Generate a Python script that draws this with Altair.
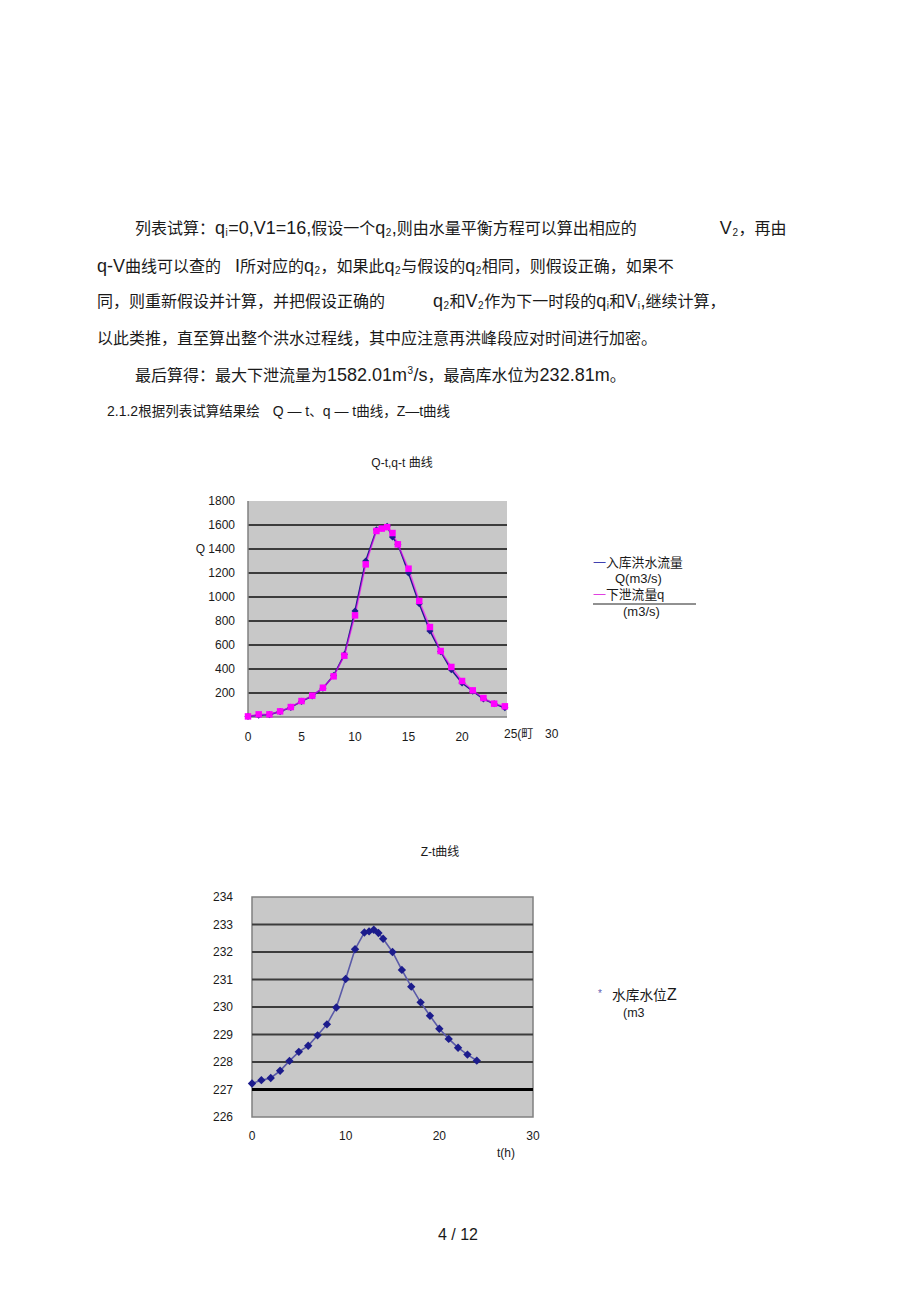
import altair as alt
import pandas as pd

# ---------------- data ----------------
t_flow = [0, 1, 2, 3, 4, 5, 6, 7, 8, 9, 10, 11, 12, 12.5, 13, 13.5, 14, 15, 16, 17, 18, 19, 20, 21, 22, 23, 24]
Q_in = [5, 15, 20, 45, 80, 130, 175, 240, 345, 520, 883, 1300, 1560, 1575, 1590, 1500, 1440, 1200, 944, 717, 545, 394, 283, 215, 150, 110, 78]
q_out = [5, 22, 22, 47, 83, 133, 178, 244, 339, 511, 847, 1272, 1550, 1570, 1582, 1533, 1439, 1236, 967, 750, 550, 417, 300, 222, 158, 111, 89]

t_z = [0, 1, 2, 3, 4, 5, 6, 7, 8, 9, 10, 11, 12, 12.5, 13, 13.5, 14, 15, 16, 17, 18, 19, 20, 21, 22, 23, 24]
Z = [227.22, 227.34, 227.42, 227.68, 228.04, 228.37, 228.59, 228.97, 229.37, 229.98, 231.02, 232.10, 232.71,
     232.75, 232.81, 232.69, 232.48, 232.0, 231.35, 230.74, 230.17, 229.68, 229.21, 228.84, 228.52, 228.27, 228.05]

q_grid = [200, 400, 600, 800, 1000, 1200, 1400, 1600]
q_ylab_vals = [200, 400, 600, 800, 1000, 1200, 1400, 1600, 1800]
q_ylab_txt = ["200", "400", "600", "800", "1000", "1200", "Q 1400", "1600", "1800"]
q_xlab_vals = [0, 5, 10, 15, 20]

z_grid = [228, 229, 230, 231, 232, 233]
z_ylab_vals = [226, 227, 228, 229, 230, 231, 232, 233, 234]
z_xlab_vals = [0, 10, 20, 30]

# paragraph text: (kind, text); c = CJK, l = Latin, sub / sup = small index, gap = blank space
para_lines = [
    (135, 229, [("c", "列表试算："), ("l", "q"), ("sub", "i"), ("l", "=0,V1=16,"), ("c", "假设一个"),
                ("l", "q"), ("sub", "2"), ("l", ","), ("c", "则由水量平衡方程可以算出相应的"),
                ("gap", "83"), ("l", "V"), ("sub", "2"), ("c", "，再由")]),
    (97, 267, [("l", "q-V"), ("c", "曲线可以查的"), ("gap", "14"), ("l", "I"), ("c", "所对应的"),
               ("l", "q"), ("sub", "2"), ("c", "，如果此"), ("l", "q"), ("sub", "2"), ("c", "与假设的"),
               ("l", "q"), ("sub", "2"), ("c", "相同，则假设正确，如果不")]),
    (97, 302, [("c", "同，则重新假设并计算，并把假设正确的"), ("gap", "48"), ("l", "q"), ("sub", "2"),
               ("c", "和"), ("l", "V"), ("sub", "2"), ("c", "作为下一时段的"), ("l", "q"), ("sub", "i"),
               ("c", "和"), ("l", "V"), ("sub", "i"), ("l", ","), ("c", "继续计算，")]),
    (97, 339, [("c", "以此类推，直至算出整个洪水过程线，其中应注意再洪峰段应对时间进行加密。")]),
    (135, 376, [("c", "最后算得：最大下泄流量为"), ("l", "1582.01m"), ("sup", "3"), ("l", "/s"),
                ("c", "，最高库水位为"), ("l", "232.81m"), ("c", "。")]),
]
heading_line = (107, 412, [("l", "2.1.2"), ("c", "根据列表试算结果绘"), ("gap", "13"), ("l", "Q — t"),
                           ("c", "、"), ("l", "q — t"), ("c", "曲线，"), ("l", "Z—t"), ("c", "曲线")])

# ---------------- style ----------------
LATIN = "Liberation Sans"
CJK = "Noto Sans CJK SC"
FONT = "Liberation Sans, Noto Sans CJK SC"
TXT = "#1a1a1a"
BG = "#c8c8c8"
GRID = "#3c3c3c"
NAVY = "#1c1c8c"
MAG = "#ff00ff"

# Arial / Liberation Sans advance widths (per 1000 em)
AW = {" ": 278, ".": 278, ",": 278, "=": 584, "-": 333, "/": 278, "(": 333, ")": 333,
      "q": 556, "V": 667, "I": 278, "m": 833, "s": 500, "Q": 778, "t": 278, "Z": 611,
      "—": 1000, "i": 222}
for d in "0123456789":
    AW[d] = 556


def lw(s, fs):
    return sum(AW.get(ch, 556) for ch in s) * fs / 1000.0


cjk_rows, lat_rows = [], []


def lay(x0, y, segs, cs, ls, ss):
    x = x0
    for kind, s in segs:
        if kind == "gap":
            x += float(s)
        elif kind == "c":
            cjk_rows.append({"s": s, "x": x, "y": y, "fs": cs})
            x += cs * len(s)
        elif kind == "l":
            lat_rows.append({"s": s, "x": x, "y": y, "fs": ls})
            x += lw(s, ls)
        elif kind == "sub":
            lat_rows.append({"s": s, "x": x + 0.5, "y": y + 4, "fs": ss})
            x += lw(s, ss) + 1
        elif kind == "sup":
            lat_rows.append({"s": s, "x": x + 0.5, "y": y - 5, "fs": ss})
            x += lw(s, ss) + 1


for x0, y, segs in para_lines:
    lay(x0, y, segs, 16, 18, 10)
lay(heading_line[0], heading_line[1], heading_line[2], 13.5, 14, 9)

xs1 = alt.Scale(domain=[0, 24.2], range=[248, 507], nice=False, zero=False)
ys1 = alt.Scale(domain=[0, 1800], range=[717, 501], nice=False, zero=False)
xs2 = alt.Scale(domain=[0, 30], range=[252, 533], nice=False, zero=False)
ys2 = alt.Scale(domain=[226, 234], range=[1117, 897], nice=False, zero=False)

layers = []


def txt(s, x, y, size=16, align="left", color=TXT, font=FONT):
    return alt.Chart(pd.DataFrame({"s": [s]})).mark_text(
        align=align, baseline="middle", fontSize=size, font=font, color=color
    ).encode(x=alt.value(x), y=alt.value(y), text="s:N")


def text_block(rows, font):
    return alt.Chart(pd.DataFrame(rows)).mark_text(
        align="left", baseline="middle", font=font, color=TXT
    ).encode(
        x=alt.X("x:Q", scale=None, axis=None),
        y=alt.Y("y:Q", scale=None, axis=None),
        size=alt.Size("fs:Q", scale=None, legend=None),
        text="s:N",
    )


layers.append(text_block(cjk_rows, CJK))
layers.append(text_block(lat_rows, LATIN))
layers.append(txt("4 / 12", 458, 1235, size=16, align="center"))

# ---------------- chart 1: Q-t, q-t ----------------
box1 = pd.DataFrame({"x0": [0], "x1": [24.2], "y0": [0], "y1": [1800]})
layers.append(
    alt.Chart(box1).mark_rect(color=BG).encode(
        x=alt.X("x0:Q", scale=xs1, axis=None), x2="x1",
        y=alt.Y("y0:Q", scale=ys1, axis=None), y2="y1")
)
g1 = pd.DataFrame({"v": q_grid, "x0": [0] * len(q_grid), "x1": [24.2] * len(q_grid)})
layers.append(
    alt.Chart(g1).mark_rule(color=GRID, strokeWidth=2).encode(
        x=alt.X("x0:Q", scale=xs1, axis=None), x2="x1",
        y=alt.Y("v:Q", scale=ys1, axis=None))
)
layers.append(
    alt.Chart(box1).mark_rule(color="#808080", strokeWidth=1.5).encode(
        x=alt.X("x0:Q", scale=xs1, axis=None),
        y=alt.Y("y0:Q", scale=ys1, axis=None), y2="y1")
)
layers.append(
    alt.Chart(box1).mark_rule(color="#808080", strokeWidth=1.5).encode(
        x=alt.X("x0:Q", scale=xs1, axis=None), x2="x1",
        y=alt.Y("y0:Q", scale=ys1, axis=None))
)
df1 = pd.DataFrame({"t": t_flow, "Q": Q_in, "q": q_out})
layers.append(
    alt.Chart(df1).mark_line(color=NAVY, strokeWidth=1.6).encode(
        x=alt.X("t:Q", scale=xs1, axis=None), y=alt.Y("Q:Q", scale=ys1, axis=None))
)
layers.append(
    alt.Chart(df1).mark_line(color=MAG, strokeWidth=1.6, opacity=0.6).encode(
        x=alt.X("t:Q", scale=xs1, axis=None), y=alt.Y("q:Q", scale=ys1, axis=None))
)
layers.append(
    alt.Chart(df1).mark_point(shape="diamond", filled=True, size=50, color=NAVY, opacity=1).encode(
        x=alt.X("t:Q", scale=xs1, axis=None), y=alt.Y("Q:Q", scale=ys1, axis=None))
)
layers.append(
    alt.Chart(df1).mark_point(shape="square", filled=True, size=42, color=MAG, opacity=1).encode(
        x=alt.X("t:Q", scale=xs1, axis=None), y=alt.Y("q:Q", scale=ys1, axis=None))
)
yl1 = pd.DataFrame({"v": q_ylab_vals, "s": q_ylab_txt})
layers.append(
    alt.Chart(yl1).mark_text(align="right", baseline="middle", fontSize=12, font=FONT, color=TXT).encode(
        x=alt.value(235), y=alt.Y("v:Q", scale=ys1, axis=None), text="s:N")
)
xl1 = pd.DataFrame({"v": q_xlab_vals})
layers.append(
    alt.Chart(xl1).mark_text(align="center", baseline="middle", fontSize=12, font=FONT, color=TXT).encode(
        x=alt.X("v:Q", scale=xs1, axis=None), y=alt.value(737), text="v:N")
)
layers += [
    txt("25(町", 504, 734, size=12),
    txt("30", 545, 734, size=12),
    txt("Q-t,q-t 曲线", 402, 463, size=12, align="center"),
    # legend
    txt("一", 593, 563, size=13, color="#4040b0", font=CJK),
    txt("入库洪水流量", 606, 563, size=12.8, font=CJK),
    txt("Q(m3/s)", 615, 579, size=13, font=LATIN),
    txt("一", 593, 595, size=13, color="#e040e0", font=CJK),
    txt("下泄流量", 606, 595, size=12.8, font=CJK),
    txt("q", 657, 595, size=13, font=LATIN),
    txt("(m3/s)", 623, 612, size=13, font=LATIN),
]
layers.append(
    alt.Chart(pd.DataFrame({"a": [0]})).mark_rule(color="#222222", strokeWidth=1).encode(
        x=alt.value(593), x2=alt.value(696), y=alt.value(604))
)

# ---------------- chart 2: Z-t ----------------
box2 = pd.DataFrame({"x0": [0], "x1": [30], "y0": [226], "y1": [234]})
layers.append(
    alt.Chart(box2).mark_rect(color=BG, stroke="#808080", strokeWidth=1.5).encode(
        x=alt.X("x0:Q", scale=xs2, axis=None), x2="x1",
        y=alt.Y("y0:Q", scale=ys2, axis=None), y2="y1")
)
g2 = pd.DataFrame({"v": z_grid, "x0": [0] * len(z_grid), "x1": [30] * len(z_grid)})
layers.append(
    alt.Chart(g2).mark_rule(color=GRID, strokeWidth=2).encode(
        x=alt.X("x0:Q", scale=xs2, axis=None), x2="x1",
        y=alt.Y("v:Q", scale=ys2, axis=None))
)
g2b = pd.DataFrame({"v": [227], "x0": [0], "x1": [30]})
layers.append(
    alt.Chart(g2b).mark_rule(color="#000000", strokeWidth=3).encode(
        x=alt.X("x0:Q", scale=xs2, axis=None), x2="x1",
        y=alt.Y("v:Q", scale=ys2, axis=None))
)
df2 = pd.DataFrame({"t": t_z, "Z": Z})
layers.append(
    alt.Chart(df2).mark_line(color="#5a5aa8", strokeWidth=1.6).encode(
        x=alt.X("t:Q", scale=xs2, axis=None), y=alt.Y("Z:Q", scale=ys2, axis=None))
)
layers.append(
    alt.Chart(df2).mark_point(shape="diamond", filled=True, size=70, color=NAVY, opacity=1).encode(
        x=alt.X("t:Q", scale=xs2, axis=None), y=alt.Y("Z:Q", scale=ys2, axis=None))
)
yl2 = pd.DataFrame({"v": z_ylab_vals})
layers.append(
    alt.Chart(yl2).mark_text(align="right", baseline="middle", fontSize=12, font=FONT, color=TXT).encode(
        x=alt.value(233), y=alt.Y("v:Q", scale=ys2, axis=None), text="v:N")
)
xl2 = pd.DataFrame({"v": z_xlab_vals})
layers.append(
    alt.Chart(xl2).mark_text(align="center", baseline="middle", fontSize=12, font=FONT, color=TXT).encode(
        x=alt.X("v:Q", scale=xs2, axis=None), y=alt.value(1136), text="v:N")
)
layers += [
    txt("t(h)", 506, 1153, size=12, align="center"),
    txt("Z-t曲线", 440, 852, size=12, align="center"),
    txt("*", 598, 994, size=10, color="#6060b0"),
    txt("水库水位", 612, 996, size=13.7, font=CJK),
    txt("Z", 667, 995, size=16, font=LATIN),
    txt("(m3", 623, 1013, size=12.5, font=LATIN),
]

chart = alt.layer(*layers).resolve_scale(
    x="independent", y="independent", size="independent"
).properties(
    width=920, height=1303, padding=0,
    autosize=alt.AutoSizeParams(type="none"), background="white"
).configure_view(stroke=None)

chart.save("out.html", embed_options={"renderer": "svg", "actions": False})
